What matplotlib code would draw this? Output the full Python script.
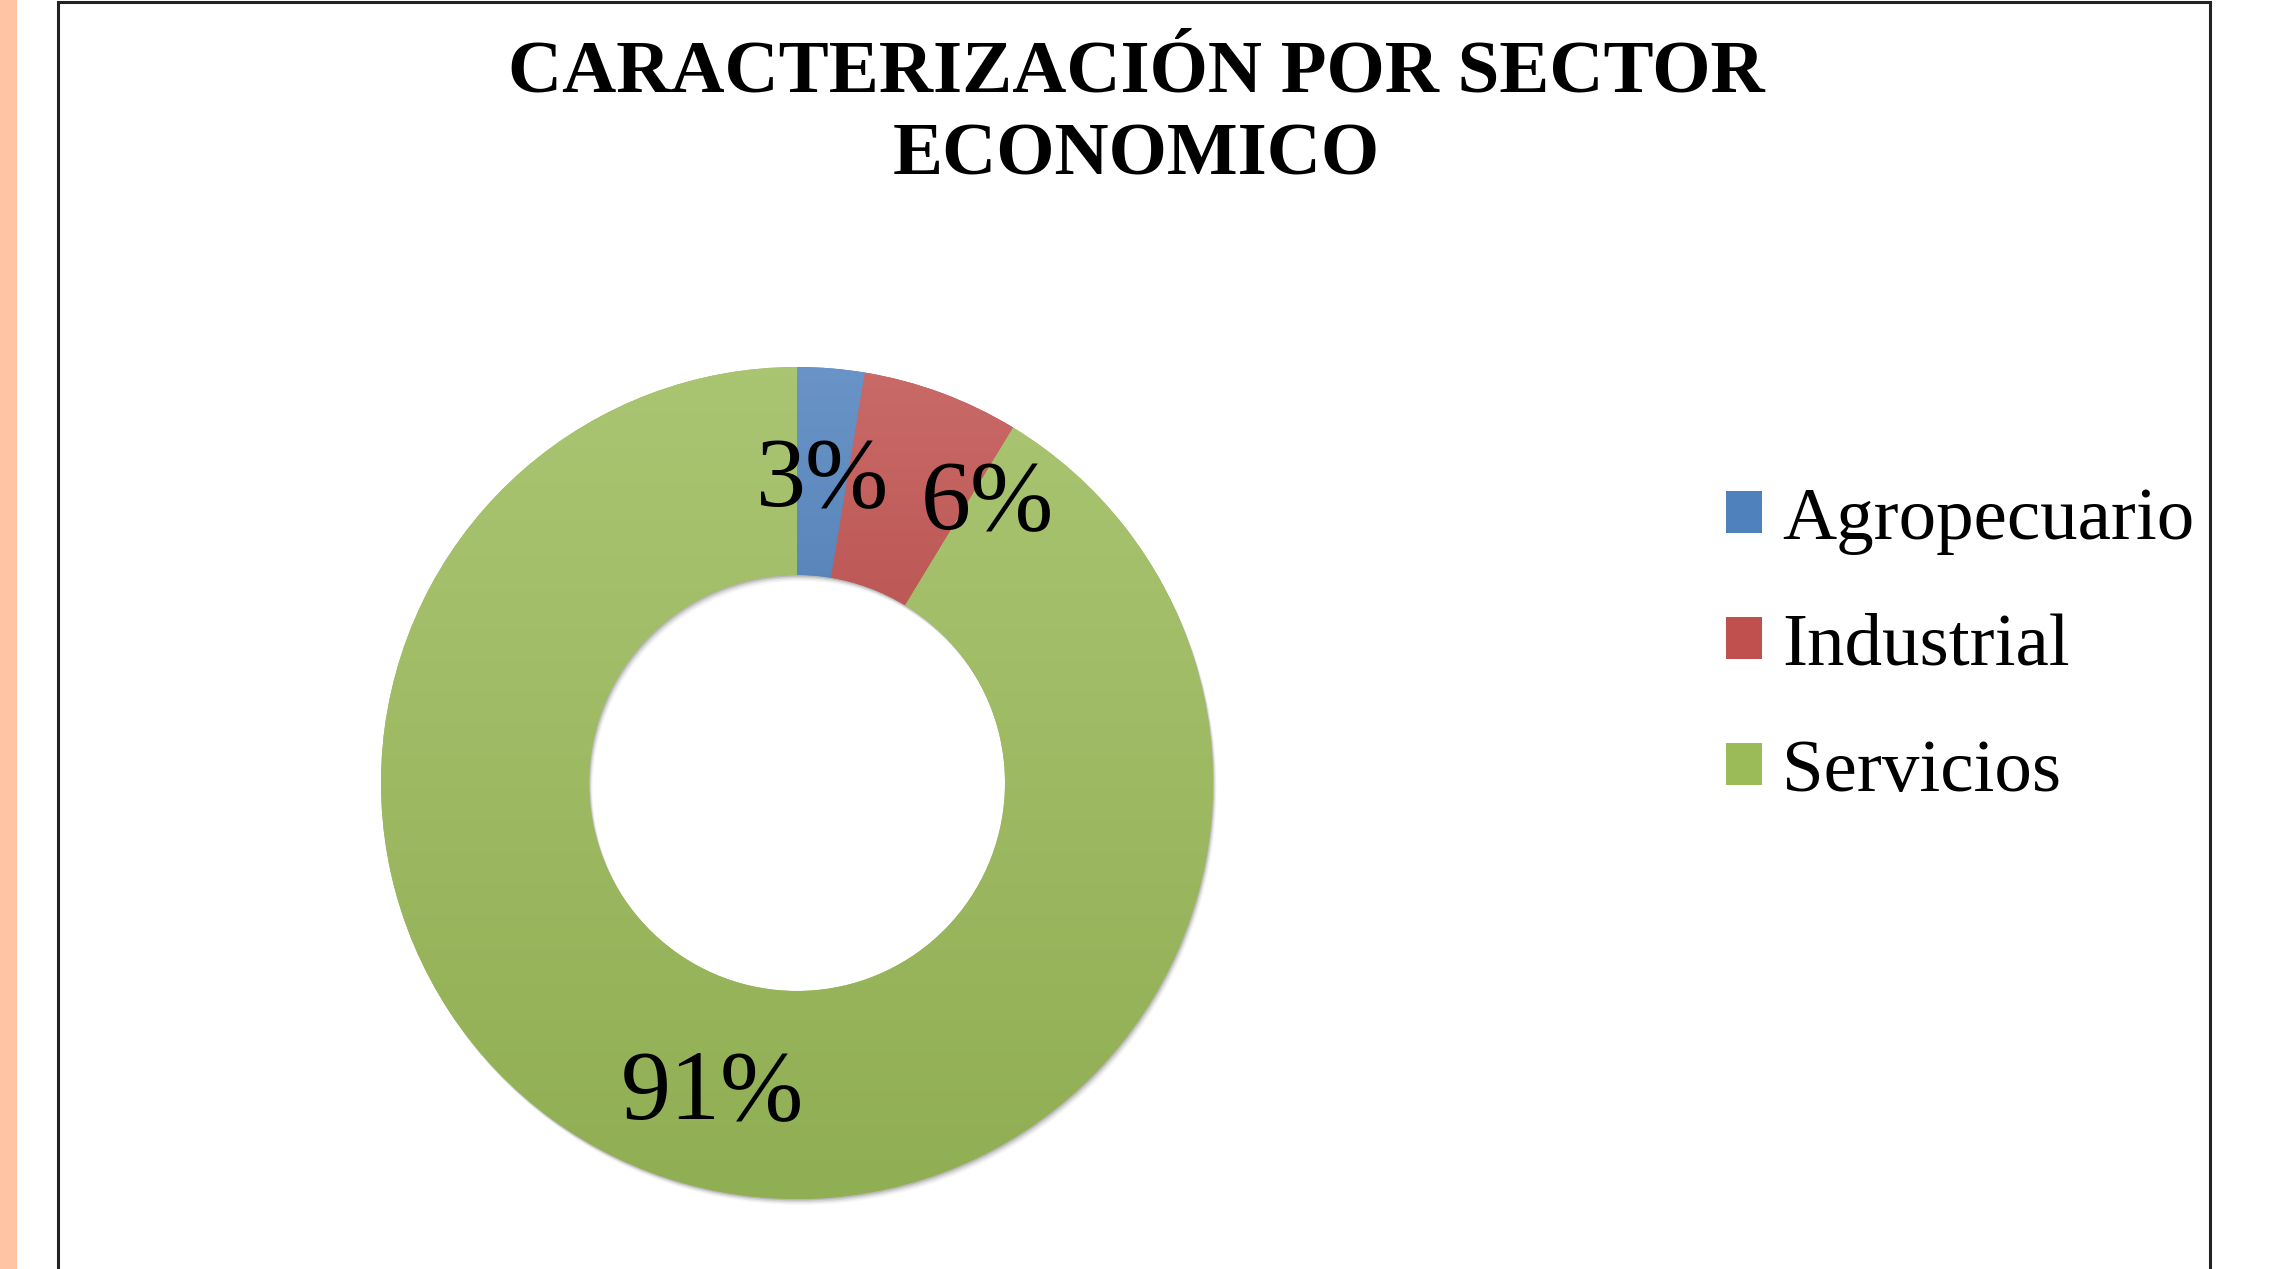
import numpy as np
import matplotlib
matplotlib.use("Agg")
import matplotlib.pyplot as plt
from matplotlib.patches import Rectangle, Shadow
from matplotlib.colors import to_rgb

# ---- data ----
categories = ["Agropecuario", "Industrial", "Servicios"]
values = [3, 7, 105]          # counts -> 3%, 6%, 91%
base_colors = ["#4F81BD", "#C0504D", "#9BBB59"]
title = "CARACTERIZACIÓN POR SECTOR\nECONOMICO"

plt.rcParams['font.family'] = ['Liberation Serif', 'DejaVu Serif']

W, H = 2269, 1269
fig = plt.figure(figsize=(W / 100, H / 100), dpi=100)
fig.patch.set_facecolor("white")

# side strip and frame
fig.add_artist(Rectangle((0, 0), 17 / W, 1, transform=fig.transFigure,
                         facecolor="#FFC4A3", edgecolor="none", zorder=0))
fig.add_artist(Rectangle((58 / W, -0.05), (2210 - 58) / W, 1.05 - 2 / H,
                         transform=fig.transFigure, facecolor="none",
                         edgecolor="#222222", linewidth=2.2, zorder=1))

# pie axes: center (797, 783) px, radius 416 px
cx, cy, r = 797, 783, 416
ax = fig.add_axes([(cx - r) / W, (H - cy - r) / H, 2 * r / W, 2 * r / H])
ax.set_xlim(-1, 1)
ax.set_ylim(-1, 1)
ax.set_aspect("equal")
ax.axis("off")

wedges, texts, autotexts = ax.pie(
    values, colors=base_colors, startangle=90, counterclock=False,
    radius=1.0, wedgeprops=dict(width=0.5, edgecolor="none"),
    autopct=lambda p: f"{p:.0f}%", pctdistance=0.75,
    textprops=dict(fontsize=72, color="black"))

# soft drop shadow (offsets given in pixels, converted for Shadow)
px2off = (1.0 / r) * 72.0 / 100.0
for w in wedges:
    for k, a in zip([1.5, 3.0, 4.5, 6.0], [0.12, 0.09, 0.06, 0.035]):
        s = Shadow(w, k * 0.6 * px2off, -k * px2off, facecolor="black",
                   alpha=a, edgecolor="none")
        s.set_zorder(w.get_zorder() - 0.5)
        ax.add_patch(s)

# vertical gradient per wedge (lighter top, darker bottom)
def lighten(c, f):
    c = np.array(to_rgb(c))
    return c + (1 - c) * f

def darken(c, f):
    return np.array(to_rgb(c)) * (1 - f)

for w, c in zip(wedges, base_colors):
    path = w.get_path()
    verts = w.get_transform().transform(path.vertices)
    verts = ax.transData.inverted().transform(verts)
    x0, x1 = verts[:, 0].min(), verts[:, 0].max()
    y0, y1 = verts[:, 1].min(), verts[:, 1].max()
    top = lighten(c, 0.15)
    bot = darken(c, 0.07)
    t = np.linspace(0, 1, 256)[:, None]
    grad = top[None, :] * (1 - t) + bot[None, :] * t
    img = np.repeat(grad[:, None, :], 2, axis=1)
    im = ax.imshow(img, extent=(x0, x1, y0, y1), origin="upper",
                   aspect="auto", zorder=w.get_zorder() + 0.1,
                   interpolation="bilinear")
    im.set_clip_path(w)

for t_ in autotexts:
    t_.set_zorder(5)
    t_.set_va("center_baseline")

# nudge the small-slice label like the source (placed further out/right)
ang = np.deg2rad(56.5)
autotexts[1].set_position((0.83 * np.cos(ang), 0.83 * np.sin(ang)))

ax.set_xlim(-1, 1)
ax.set_ylim(-1, 1)

# title
fig.text(1136 / W, 1 - 115 / H, title, ha="center", va="center",
         fontsize=54, fontweight="bold", linespacing=1.29)

# legend
leg = fig.legend(wedges, categories, loc="center left",
                 bbox_to_anchor=(1726 / W, 1 - 647 / H),
                 frameon=False, fontsize=54, handlelength=0.48,
                 handleheight=0.48, handletextpad=0.27, labelspacing=0.78,
                 borderpad=0, borderaxespad=0)

fig.savefig("out.png", dpi=100, facecolor="white")
